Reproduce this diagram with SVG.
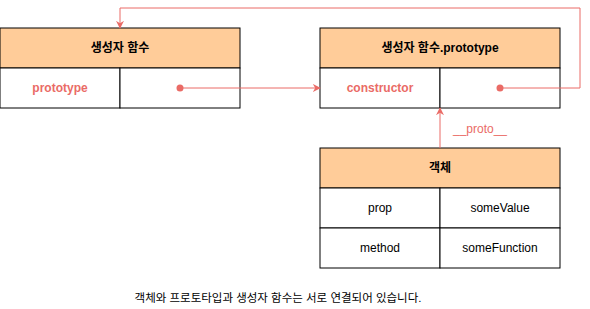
<svg xmlns="http://www.w3.org/2000/svg" width="590" height="309" viewBox="0 0 590 309">
<style>
.hdr{fill:#FFCC99;stroke:#000;stroke-width:1}
.cell{fill:#fff;stroke:#000;stroke-width:1}
text{font-family:"Liberation Sans","Noto Sans CJK KR",sans-serif;font-size:12px;text-anchor:middle;dominant-baseline:central}
.b{font-weight:bold;fill:#000}
.red{fill:#EA6B66;font-weight:bold}
.n{fill:#000}
.conn{fill:none;stroke:#EA6B66;stroke-width:1}
</style>
<defs>
<marker id="ah" viewBox="0 0 10 10" refX="9" refY="5" markerWidth="8" markerHeight="8" orient="auto" markerUnits="userSpaceOnUse">
<path d="M0,0 L10,5 L0,10 L3,5 Z" fill="#EA6B66"/>
</marker>
</defs>
<rect width="590" height="309" fill="#fff"/>
<g id="ctor">
<rect class="hdr" x="0" y="28" width="240" height="40"/>
<text class="b" x="120" y="48">생성자 함수</text>
<rect class="cell" x="0" y="68" width="120" height="40"/>
<rect class="cell" x="120" y="68" width="120" height="40"/>
<text class="red" x="60" y="88">prototype</text>
</g>
<g id="proto">
<rect class="hdr" x="320" y="28" width="240" height="40"/>
<text class="b" x="440" y="48">생성자 함수.prototype</text>
<rect class="cell" x="320" y="68" width="120" height="40"/>
<rect class="cell" x="440" y="68" width="120" height="40"/>
<text class="red" x="380" y="88">constructor</text>
</g>
<g id="obj">
<rect class="hdr" x="320" y="148" width="240" height="40"/>
<text class="b" x="440" y="168">객체</text>
<rect class="cell" x="320" y="188" width="120" height="40"/>
<rect class="cell" x="440" y="188" width="120" height="40"/>
<rect class="cell" x="320" y="228" width="120" height="40"/>
<rect class="cell" x="440" y="228" width="120" height="40"/>
<text class="n" x="380" y="208">prop</text>
<text class="n" x="500" y="208">someValue</text>
<text class="n" x="380" y="248">method</text>
<text class="n" x="500" y="248">someFunction</text>
</g>
<g id="connectors">
<circle cx="180" cy="88" r="3.5" fill="#EA6B66"/>
<path class="conn" d="M180,88 L320,88" marker-end="url(#ah)"/>
<circle cx="500" cy="88" r="3.5" fill="#EA6B66"/>
<path class="conn" d="M500,88 L580,88 L580,8 L120,8 L120,28" marker-end="url(#ah)"/>
<path class="conn" d="M440,148 L440,108" marker-end="url(#ah)"/>
<text x="480" y="129" style="fill:#EA6B66;font-size:12px">__proto__</text>
</g>
<text class="n" x="278" y="298" style="font-size:11.5px">객체와 프로토타입과 생성자 함수는 서로 연결되어 있습니다.</text>
</svg>
